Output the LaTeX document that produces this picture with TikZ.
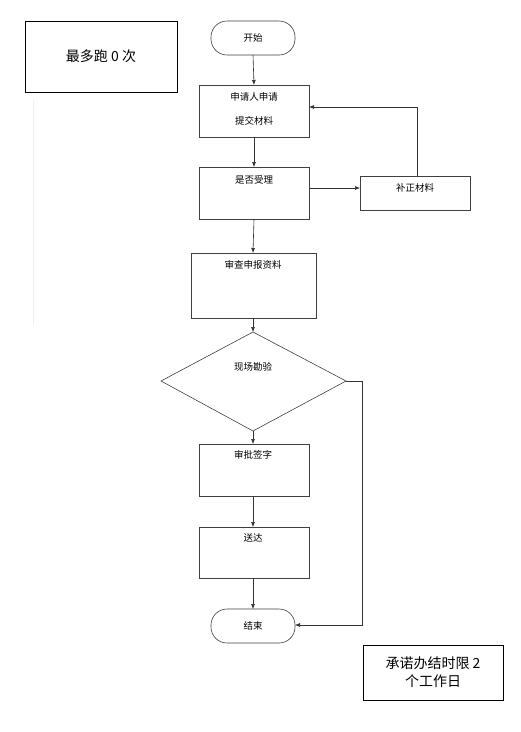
\documentclass[tikz,border=0pt]{standalone}
\usepackage{fontspec}
\setmainfont{Noto Sans CJK SC}
\usetikzlibrary{arrows.meta,shapes.geometric}
\begin{document}
\begin{tikzpicture}[x=1pt,y=-1pt,
  box/.style={draw=black!75,line width=0.6pt,fill=white},
  note/.style={draw=black,line width=1pt},
  lbl/.style={font=\fontsize{9.5}{11}\selectfont,inner sep=0pt},
  big/.style={font=\fontsize{14}{18}\selectfont,align=center,inner sep=0pt},
  arr/.style={draw=black!80,line width=0.6pt,-{Latex[length=5pt,width=4pt]}}]
\useasboundingbox (0,0) rectangle (521,732);
\fill[white] (0,0) rectangle (521,732);
% stray faint line
\draw[black!6,line width=0.6pt] (33,100) -- (33,325);
% note boxes
\draw[note] (25,21) rectangle (177,92);
\node[big] (n1) at (101,56) {最多跑 0 次};
\draw[note] (363,645) rectangle (503,700);
\node[big] (n2) at (433,672) {承诺办结时限 2\\个工作日};
% start
\draw[box,rounded corners=16pt] (211,21) rectangle (295,55);
\node[lbl] (start) at (253,38) {开始};
\coordinate (startB) at (253,55);
% apply
\draw[box] (199,85) rectangle (309,137);
\coordinate (applyT) at (254,85);
\coordinate (applyB) at (254,137);
\coordinate (applyR) at (309,107);
\node[lbl] (apply1) at (254,97) {申请人申请};
\node[lbl] (apply2) at (254,121) {提交材料};
% accept
\draw[box] (199,167) rectangle (309,219);
\coordinate (accT) at (254,167);
\coordinate (accB) at (254,219);
\coordinate (accR) at (309,188);
\node[lbl] (acc) at (254,180) {是否受理};
% supplement
\draw[box] (360,176) rectangle (470,210);
\coordinate (supL) at (360,188);
\coordinate (supT) at (417,176);
\node[lbl] (sup) at (415,188) {补正材料};
% review
\draw[box] (191,253) rectangle (316,318);
\coordinate (revT) at (253,253);
\coordinate (revB) at (253,318);
\node[lbl] (rev) at (253,265) {审查申报资料};
% diamond
\draw[box] (253,332) -- (346,381) -- (253,431) -- (161,381) -- cycle;
\coordinate (diaT) at (253,332);
\coordinate (diaB) at (253,431);
\coordinate (diaR) at (346,381);
\node[lbl] (dia) at (253,367) {现场勘验};
% approve
\draw[box] (199,444) rectangle (309,496);
\coordinate (appT) at (253,444);
\coordinate (appB) at (253,496);
\node[lbl] (app) at (253,455) {审批签字};
% deliver
\draw[box] (199,527) rectangle (309,578);
\coordinate (delT) at (253,527);
\coordinate (delB) at (253,578);
\node[lbl] (del) at (253,538) {送达};
% end
\draw[box,rounded corners=16pt] (211,609) rectangle (295,643);
\coordinate (endT) at (253,609);
\coordinate (endR) at (295,625);
\node[lbl] (end) at (253,626) {结束};
% connectors
\draw[arr] (startB) -- (applyT);
\draw[arr] (applyB) -- (accT);
\draw[arr] (accR) -- (supL);
\draw[arr] (supT) |- (applyR);
\draw[arr] (accB) -- (revT);
\draw[arr] (revB) -- (diaT);
\draw[arr] (diaB) -- (appT);
\draw[arr] (appB) -- (delT);
\draw[arr] (delB) -- (endT);
\draw[arr] (diaR) -- (362,381) |- (endR);
\end{tikzpicture}
\end{document}
